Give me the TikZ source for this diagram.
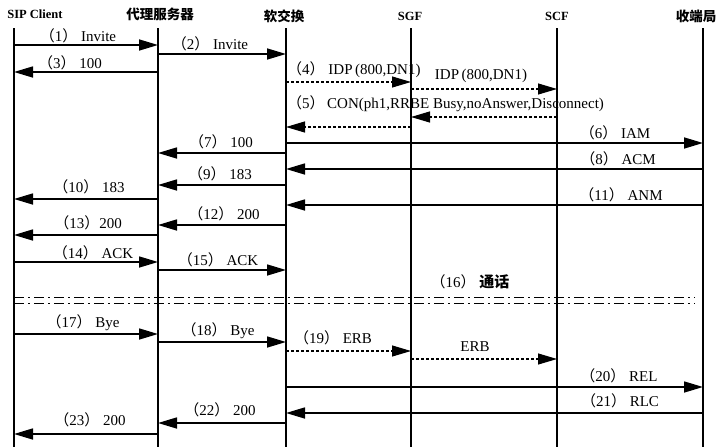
\documentclass[tikz,border=0pt]{standalone}
\usepackage{fontspec}
\setmainfont{Liberation Serif}
\newfontfamily\cjk{Noto Sans CJK SC}
\usetikzlibrary{arrows.meta}

\newcommand{\stepno}[1]{{\cjk （}#1{\cjk ）}}

\tikzset{
  actor/.style={font=\fontsize{12.5}{14}\selectfont\bfseries, inner sep=1pt},
  cnactor/.style={font=\fontsize{13.5}{15}\selectfont\cjk\bfseries, inner sep=1pt},
  lifeline/.style={line width=1.6pt},
  msg/.style={-{Triangle[length=19pt,width=11pt]}, line width=1.6pt},
  qmsg/.style={-{Triangle[length=19pt,width=11pt]}, line width=1.1pt,
               dash pattern=on 3pt off 2pt},
  lab/.style={font=\fontsize{15}{17}\selectfont, inner sep=1pt},
  talk/.style={line width=0.9pt, dash pattern=on 10pt off 4pt on 2pt off 4pt},
}

\begin{document}
\begin{tikzpicture}[x=1pt, y=-1pt]
  \useasboundingbox (0,0) rectangle (718,447);

  % --- Lifelines ---
  \def\ltop{28}
  \def\lbot{447}
  \coordinate (sip)   at (14,  \ltop);
  \coordinate (proxy) at (158, \ltop);
  \coordinate (ss)    at (286, \ltop);
  \coordinate (sgf)   at (411, \ltop);
  \coordinate (scf)   at (557, \ltop);
  \coordinate (term)  at (703, \ltop);

  \node[actor]   (hsip)   at (35,  14) {SIP Client};
  \node[cnactor] (hproxy) at (160, 14) {代理服务器};
  \node[cnactor] (hss)    at (284, 16) {软交换};
  \node[actor]   (hsgf)   at (410, 16) {SGF};
  \node[actor]   (hscf)   at (557, 16) {SCF};
  \node[cnactor] (hterm)  at (696, 16) {收端局};

  \foreach \l in {sip, proxy, ss, sgf, scf, term}
    \draw[lifeline] (\l) -- (\l |- 0,\lbot);

  % --- call setup ---
  \draw[msg] (sip |- 0,45)   -- (proxy |- 0,45);
  \node[lab] (m1) at (78, 36) {\stepno{1}\ Invite};
  \draw[msg] (proxy |- 0,54) -- (ss |- 0,54);
  \node[lab] (m2) at (210, 44) {\stepno{2}\ Invite};
  \draw[msg] (proxy |- 0,72) -- (sip |- 0,72);
  \node[lab] (m3) at (70, 63) {\stepno{3}\ 100};

  % --- IN query ---
  \draw[qmsg] (ss |- 0,82)   -- (sgf |- 0,82);
  \node[lab, anchor=west] (m4) at (286, 70) {\stepno{4}\ IDP\,(800,DN1)};
  \draw[qmsg] (sgf |- 0,89)  -- (scf |- 0,89);
  \node[lab] (m4b) at (481, 76) {IDP\,(800,DN1)};
  \draw[qmsg] (scf |- 0,117) -- (sgf |- 0,117);
  \draw[qmsg] (sgf |- 0,127) -- (ss |- 0,127);
  \node[lab, anchor=west] (m5) at (286, 104) {\stepno{5}\,CON(ph1,RRBE Busy,noAnswer,Disconnect)};

  % --- ISUP / SIP answers ---
  \draw[msg] (ss |- 0,143)    -- (term |- 0,143);
  \node[lab] (m6) at (615, 133) {\stepno{6}\ IAM};
  \draw[msg] (ss |- 0,153)    -- (proxy |- 0,153);
  \node[lab] (m7) at (221, 142) {\stepno{7}\ 100};
  \draw[msg] (term |- 0,169)  -- (ss |- 0,169);
  \node[lab] (m8) at (618, 159) {\stepno{8}\ ACM};
  \draw[msg] (ss |- 0,185)    -- (proxy |- 0,185);
  \node[lab] (m9) at (220, 174) {\stepno{9}\ 183};
  \draw[msg] (proxy |- 0,199) -- (sip |- 0,199);
  \node[lab] (m10) at (89, 187) {\stepno{10}\ 183};
  \draw[msg] (term |- 0,205)  -- (ss |- 0,205);
  \node[lab] (m11) at (621, 195) {\stepno{11}\ ANM};
  \draw[msg] (ss |- 0,225)    -- (proxy |- 0,225);
  \node[lab] (m12) at (224, 214) {\stepno{12}\ 200};
  \draw[msg] (proxy |- 0,235) -- (sip |- 0,235);
  \node[lab] (m13) at (88, 223) {\stepno{13}200};
  \draw[msg] (sip |- 0,262)   -- (proxy |- 0,262);
  \node[lab] (m14) at (93, 253) {\stepno{14}\ ACK};
  \draw[msg] (proxy |- 0,270) -- (ss |- 0,270);
  \node[lab] (m15) at (218, 260) {\stepno{15}\ ACK};

  % --- conversation ---
  \node[lab] (m16) at (470, 282) {\stepno{16}\ {\cjk\bfseries 通话}};
  \draw[talk, shorten >=8pt] (sip |- 0,297) -- (term |- 0,297);
  \draw[talk, shorten >=8pt] (sip |- 0,303) -- (term |- 0,303);

  % --- release ---
  \draw[msg] (sip |- 0,334)   -- (proxy |- 0,334);
  \node[lab] (m17) at (83, 323) {\stepno{17}\ Bye};
  \draw[msg] (proxy |- 0,342) -- (ss |- 0,342);
  \node[lab] (m18) at (218, 331) {\stepno{18}\ Bye};
  \draw[qmsg] (ss |- 0,351)   -- (sgf |- 0,351);
  \node[lab] (m19) at (333, 338) {\stepno{19}\ ERB};
  \draw[qmsg] (sgf |- 0,359)  -- (scf |- 0,359);
  \node[lab] (m19b) at (475, 347) {ERB};
  \draw[msg] (ss |- 0,387)    -- (term |- 0,387);
  \node[lab] (m20) at (619, 376) {\stepno{20}\ REL};
  \draw[msg] (term |- 0,413)  -- (ss |- 0,413);
  \node[lab] (m21) at (620, 401) {\stepno{21}\ RLC};
  \draw[msg] (ss |- 0,423)    -- (proxy |- 0,423);
  \node[lab] (m22) at (220, 410) {\stepno{22}\ 200};
  \draw[msg] (proxy |- 0,434) -- (sip |- 0,434);
  \node[lab] (m23) at (90, 420) {\stepno{23}\ 200};
\end{tikzpicture}
\end{document}
